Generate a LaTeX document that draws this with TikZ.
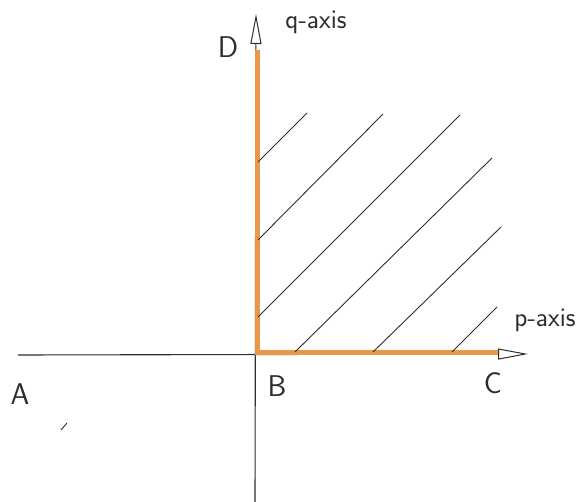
\documentclass[tikz,border=0pt]{standalone}
\usetikzlibrary{arrows.meta}
\definecolor{axisorange}{RGB}{232,152,72}
\definecolor{ink}{RGB}{45,45,45}
\tikzset{
  axisline/.style={draw=ink, line width=1.1pt},
  axisarrow/.style={axisline, -{Triangle[open, length=30pt, width=11pt, line width=1pt]}},
  bound/.style={draw=axisorange, line width=4.5pt},
  hatch/.style={draw=ink, line width=0.9pt},
  lbl/.style={font=\sffamily\fontsize{30}{30}\selectfont, text=ink, inner sep=0pt},
  axlbl/.style={font=\sffamily\fontsize{27}{27}\selectfont, text=ink, inner sep=0pt}
}
\begin{document}
\begin{tikzpicture}[x=1pt, y=-1pt]
\useasboundingbox (0,0) rectangle (586,502);
% coordinates
\coordinate (O) at (255,355);
\coordinate (xs) at (18,355);
\coordinate (xe) at (528,354);
\coordinate (ys) at (255,502);
\coordinate (ye) at (256,14);
\coordinate (qtop) at (257.5,50);
\coordinate (corner) at (257.5,352.5);
\coordinate (pend) at (498,352.5);
% axes
\draw[axisarrow] (xs) -- (xe);
\draw[axisarrow] (ys) -- (ye);
% orange boundary
\draw[bound] (qtop) -- (corner) -- (pend);
% hatching
\coordinate (h1a) at (258,162); \coordinate (h1b) at (307,113);
\coordinate (h2a) at (258,240); \coordinate (h2b) at (383,114);
\coordinate (h3a) at (258,317); \coordinate (h3b) at (460,115);
\coordinate (h4a) at (295,352); \coordinate (h4b) at (492,158);
\coordinate (h5a) at (373,352); \coordinate (h5b) at (501,227);
\coordinate (h6a) at (452,352); \coordinate (h6b) at (497,307);
\draw[hatch] (h1a) -- (h1b);
\draw[hatch] (h2a) -- (h2b);
\draw[hatch] (h3a) -- (h3b);
\draw[hatch] (h4a) -- (h4b);
\draw[hatch] (h5a) -- (h5b);
\draw[hatch] (h6a) -- (h6b);
% stray mark
\coordinate (m1) at (61,430); \coordinate (m2) at (67,423);
\draw[hatch] (m1) -- (m2);
% labels
\node[lbl] (D) at (228,47) {D};
\node[axlbl] (q) at (316,22) {q-axis};
\node[axlbl] (p) at (545,320) {p-axis};
\node[lbl] (A) at (20,394) {A};
\node[lbl] (B) at (277,386) {B};
\node[lbl] (C) at (493,383) {C};
\end{tikzpicture}
\end{document}
